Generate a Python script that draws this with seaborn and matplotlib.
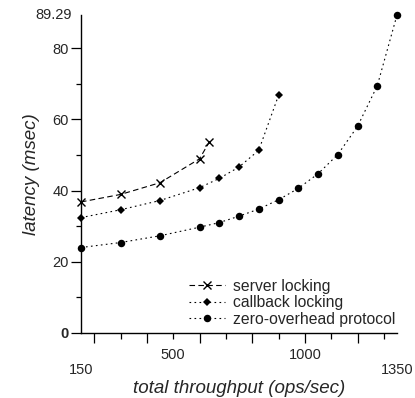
import matplotlib
matplotlib.use("Agg")
import matplotlib.pyplot as plt
import seaborn as sns
import pandas as pd

# data
server_x = [150, 300, 450, 600, 637]
server_y = [36.8, 38.9, 42.2, 48.9, 53.6]
callback_x = [150, 300, 450, 600, 675, 750, 825, 900]
callback_y = [32.4, 34.6, 37.2, 40.8, 43.4, 46.6, 51.3, 66.7]
zero_x = [150, 300, 450, 600, 675, 750, 825, 900, 975, 1050, 1125, 1200, 1275, 1350]
zero_y = [24.0, 25.4, 27.3, 29.7, 31.0, 32.8, 34.8, 37.4, 40.6, 44.7, 50.1, 58.0, 69.4, 89.29]
series_names = ["server locking", "callback locking", "zero-overhead protocol"]
x_labels = ["150", "500", "1000", "1350"]
x_label_pos = [150, 500, 1000, 1350]
y_labels = ["0", "20", "40", "60", "80"]
y_max = 89.29

sns.set_style("ticks")
plt.rcParams['font.family'] = ['Liberation Sans', 'DejaVu Sans']

fig = plt.figure(figsize=(4.15, 3.98), dpi=100)
ax = fig.add_axes([81/415, 1-333/398, (397-81)/415, (333-15)/398])

lw = 0.8
df_s = pd.DataFrame({"x": server_x, "y": server_y})
df_c = pd.DataFrame({"x": callback_x, "y": callback_y})
df_z = pd.DataFrame({"x": zero_x, "y": zero_y})
sns.lineplot(data=df_s, x="x", y="y", ax=ax, color="black", lw=lw, marker="x",
             markersize=5.5, markeredgewidth=1.0, markeredgecolor="black",
             label=series_names[0], clip_on=False)
sns.lineplot(data=df_c, x="x", y="y", ax=ax, color="black", lw=lw, marker="D",
             markersize=3.6, markeredgewidth=0, markerfacecolor="black",
             label=series_names[1], clip_on=False)
sns.lineplot(data=df_z, x="x", y="y", ax=ax, color="black", lw=lw, marker="o",
             markersize=5.4, markeredgewidth=0, markerfacecolor="black",
             label=series_names[2], clip_on=False)
lines = ax.get_lines()
lines[0].set_linestyle((0, (5, 3)))
lines[1].set_linestyle((0, (1.5, 3)))
lines[2].set_linestyle((0, (1.5, 3)))

ax.set_xlim(150, 1350)
ax.set_ylim(0, y_max)
sns.despine(ax=ax)
for s in ["left", "bottom"]:
    ax.spines[s].set_linewidth(1.0)
    ax.spines[s].set_color("black")

ax.set_xticks(range(200, 1201, 200))
ax.set_xticks(range(300, 1301, 200), minor=True)
ax.set_xticklabels([])
ax.tick_params(axis="x", which="major", length=7, width=0.9, direction="out", color="black")
ax.tick_params(axis="x", which="minor", length=4, width=0.9, direction="out", color="black")
xt = ax.get_xaxis_transform()
for lab, pos in zip(x_labels, x_label_pos):
    dy = -0.048 if lab in ("500", "1000") else -0.093
    ax.text(pos, dy, lab, transform=xt, ha="center", va="top", fontsize=10.5)

ax.set_yticks([0, 20, 40, 60, 80])
ax.set_yticks([10, 30, 50, 70], minor=True)
ax.set_yticklabels(y_labels, fontsize=10.5)
ax.get_yticklabels()[0].set_fontweight("bold")
ax.tick_params(axis="y", which="major", length=7, width=0.9, pad=2, color="black")
ax.tick_params(axis="y", which="minor", length=3.5, width=0.9, color="black")
yt = ax.get_yaxis_transform()
ax.text(-0.03, y_max, "89.29", transform=yt, ha="right", va="center", fontsize=10.5)

ax.set_xlabel("total throughput (ops/sec)", fontsize=13.5, style="italic", labelpad=23)
ax.set_ylabel("latency (msec)", fontsize=13.5, style="italic", labelpad=9)

leg = ax.legend(loc="lower right", bbox_to_anchor=(1.03, -0.015), frameon=False,
                fontsize=11.3, handlelength=2.3, handletextpad=0.5, labelspacing=0.1,
                borderaxespad=0.3)

fig.savefig("out.png", dpi=100)
